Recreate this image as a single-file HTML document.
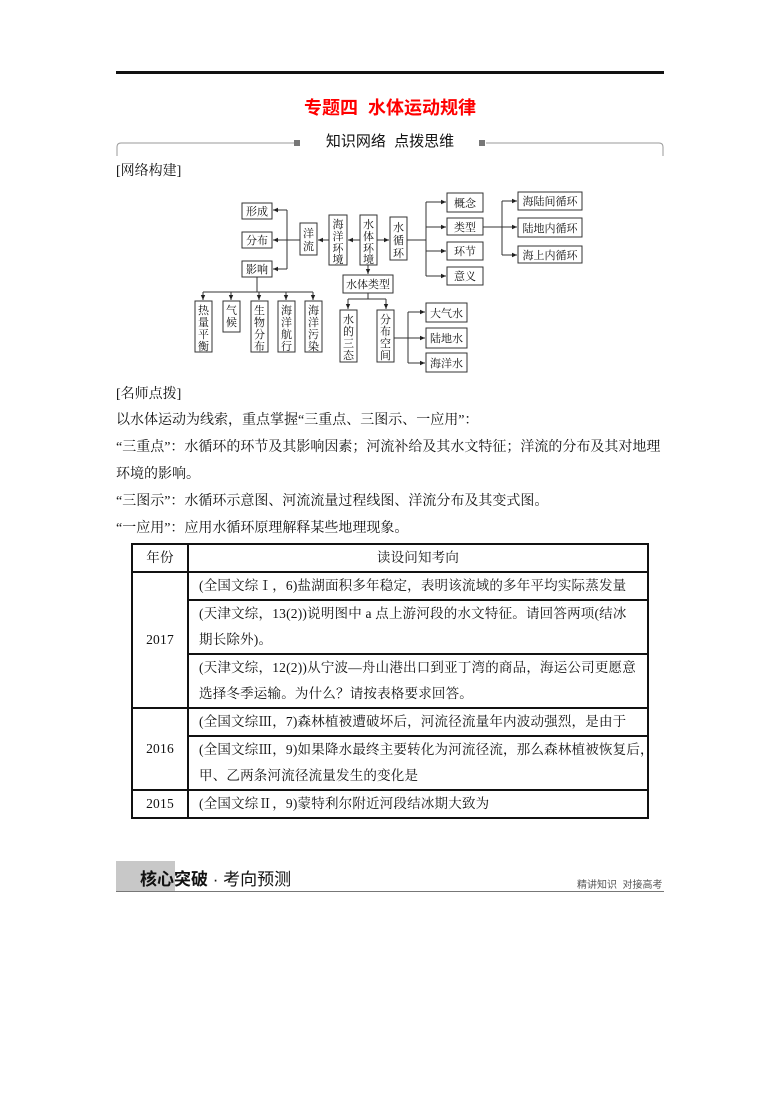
<!DOCTYPE html>
<html><head><meta charset="utf-8"><style>
body{margin:0;width:780px;height:1105px;background:#fff;position:relative;font-family:"Liberation Serif","Noto Serif CJK SC",serif;color:#111;overflow:hidden}
.a{position:absolute;white-space:nowrap}
.p{font-size:14px;left:116px}
table{position:absolute;left:131px;top:543px;border-collapse:collapse;font-size:13.5px;table-layout:fixed;width:518px}
td{border:2px solid #111;padding:0 0 0 10px;vertical-align:top;line-height:26px;white-space:nowrap;overflow:hidden;letter-spacing:0.2px}
td.y{text-align:center;vertical-align:middle;padding:0}
</style></head><body>
<div class="a" style="left:116px;top:71px;width:548px;height:3px;background:#111"></div>
<div class="a" style="left:0;width:780px;top:94px;text-align:center;color:#f00;font-size:18px;font-weight:bold;font-family:'Liberation Sans','Noto Sans CJK SC',sans-serif">专题四&nbsp; 水体运动规律</div>
<svg class="a" style="left:0;top:0" width="780" height="200">
<path d="M117 156 V147 Q117 143 121 143 H294 M486 143 H659 Q663 143 663 147 V156" fill="none" stroke="#999" stroke-width="1"/>
<rect x="294" y="140" width="6" height="6" fill="#777"/><rect x="479" y="140" width="6" height="6" fill="#777"/>
</svg>
<div class="a" style="left:0;width:780px;top:130px;text-align:center;font-size:15px;font-family:'Liberation Sans','Noto Sans CJK SC',sans-serif">知识网络&nbsp; 点拨思维</div>
<div class="a p" style="top:160px">[网络构建]</div>

<svg class="a" style="left:0;top:0;font-family:'Liberation Serif','Noto Serif CJK SC',serif" width="780" height="400" font-size="11">
<defs><marker id="m" markerWidth="6" markerHeight="6" refX="5" refY="3" orient="auto"><path d="M0,0.8 L5,3 L0,5.2z" fill="#222"/></marker></defs>
<g fill="#fff" stroke="#333" stroke-width="1">
<rect x="242" y="203" width="30" height="16"/><rect x="242" y="232" width="30" height="16"/><rect x="242" y="261" width="30" height="16"/>
<rect x="300" y="223" width="17" height="32"/><rect x="329" y="215" width="18" height="50"/><rect x="360" y="215" width="17" height="50"/><rect x="390" y="217" width="17" height="43"/>
<rect x="447" y="193" width="36" height="19"/><rect x="447" y="218" width="36" height="17"/><rect x="447" y="242" width="36" height="18"/><rect x="447" y="267" width="36" height="18"/>
<rect x="518" y="192" width="64" height="18"/><rect x="518" y="218" width="64" height="19"/><rect x="518" y="246" width="64" height="17"/>
<rect x="343" y="275" width="50" height="18"/>
<rect x="195" y="301" width="17" height="51"/><rect x="223" y="301" width="17" height="31"/><rect x="251" y="301" width="17" height="51"/><rect x="278" y="301" width="17" height="51"/><rect x="305" y="301" width="17" height="51"/>
<rect x="340" y="310" width="17" height="52"/><rect x="377" y="310" width="17" height="52"/>
<rect x="426" y="303" width="41" height="19"/><rect x="426" y="328" width="41" height="20"/><rect x="426" y="353" width="41" height="19"/>
</g>
<g fill="none" stroke="#333" stroke-width="1" marker-end="url(#m)">
<path d="M360 240 H348"/><path d="M329 240 H318"/>
<path d="M287 210 H273"/><path d="M287 240 H273"/><path d="M287 269 H273"/>
<path d="M203 292 V300"/><path d="M231 292 V300"/><path d="M259 292 V300"/><path d="M286 292 V300"/><path d="M313 292 V300"/>
<path d="M377 240 H389"/>
<path d="M426 202 H446"/><path d="M426 227 H446"/><path d="M426 251 H446"/><path d="M426 276 H446"/>
<path d="M502 201 H517"/><path d="M502 227 H517"/><path d="M502 255 H517"/>
<path d="M368 265 V274"/>
<path d="M348 299 V309"/><path d="M386 299 V309"/>
<path d="M408 312 H425"/><path d="M408 338 H425"/><path d="M408 363 H425"/>
</g>
<g fill="none" stroke="#333" stroke-width="1">
<path d="M300 240 H287 M287 210 V269"/><path d="M257 277 V292 M203 292 H313"/>
<path d="M407 240 H426 M426 202 V276"/><path d="M483 227 H502 M502 201 V255"/>
<path d="M368 293 V299 M348 299 H386"/><path d="M394 338 H408 M408 312 V363"/>
</g>
<g fill="#111" text-anchor="middle">
<text x="257" y="215">形成</text><text x="257" y="244">分布</text><text x="257" y="273">影响</text>
<text x="308.5" y="237">洋</text><text x="308.5" y="250">流</text>
<text x="338" y="228">海</text><text x="338" y="240">洋</text><text x="338" y="252">环</text><text x="338" y="263">境</text>
<text x="368.5" y="228">水</text><text x="368.5" y="240">体</text><text x="368.5" y="252">环</text><text x="368.5" y="263">境</text>
<text x="398.5" y="231">水</text><text x="398.5" y="244">循</text><text x="398.5" y="257">环</text>
<text x="465" y="207">概念</text><text x="465" y="231">类型</text><text x="465" y="255">环节</text><text x="465" y="280">意义</text>
<text x="550" y="205">海陆间循环</text><text x="550" y="232">陆地内循环</text><text x="550" y="259">海上内循环</text>
<text x="368" y="288">水体类型</text>
<text x="203.5" y="314">热</text><text x="203.5" y="326">量</text><text x="203.5" y="338">平</text><text x="203.5" y="350">衡</text>
<text x="231.5" y="314">气</text><text x="231.5" y="326">候</text>
<text x="259.5" y="314">生</text><text x="259.5" y="326">物</text><text x="259.5" y="338">分</text><text x="259.5" y="350">布</text>
<text x="286.5" y="314">海</text><text x="286.5" y="326">洋</text><text x="286.5" y="338">航</text><text x="286.5" y="350">行</text>
<text x="313.5" y="314">海</text><text x="313.5" y="326">洋</text><text x="313.5" y="338">污</text><text x="313.5" y="350">染</text>
<text x="348.5" y="323">水</text><text x="348.5" y="335">的</text><text x="348.5" y="347">三</text><text x="348.5" y="359">态</text>
<text x="385.5" y="323">分</text><text x="385.5" y="335">布</text><text x="385.5" y="347">空</text><text x="385.5" y="359">间</text>
<text x="446.5" y="317">大气水</text><text x="446.5" y="342">陆地水</text><text x="446.5" y="367">海洋水</text>
</g>
</svg>

<div class="a p" style="top:383px">[名师点拨]</div>
<div class="a p" style="top:409px">以水体运动为线索，重点掌握“三重点、三图示、一应用”：</div>
<div class="a p" style="top:436px">“三重点”：水循环的环节及其影响因素；河流补给及其水文特征；洋流的分布及其对地理</div>
<div class="a p" style="top:463px">环境的影响。</div>
<div class="a p" style="top:490px">“三图示”：水循环示意图、河流流量过程线图、洋流分布及其变式图。</div>
<div class="a p" style="top:517px">“一应用”：应用水循环原理解释某些地理现象。</div>

<table>
<colgroup><col style="width:56px"><col></colgroup>
<tr style="height:26px"><td class="y" style="vertical-align:top">年份</td><td style="text-align:center;padding:0">读设问知考向</td></tr>
<tr style="height:25px"><td class="y" rowspan="3">2017</td><td>(全国文综Ⅰ，6)盐湖面积多年稳定，表明该流域的多年平均实际蒸发量</td></tr>
<tr style="height:53px"><td>(天津文综，13(2))说明图中 a 点上游河段的水文特征。请回答两项(结冰<br>期长除外)。</td></tr>
<tr style="height:52px"><td>(天津文综，12(2))从宁波—舟山港出口到亚丁湾的商品，海运公司更愿意<br>选择冬季运输。为什么？请按表格要求回答。</td></tr>
<tr style="height:25px"><td class="y" rowspan="2">2016</td><td>(全国文综Ⅲ，7)森林植被遭破坏后，河流径流量年内波动强烈，是由于</td></tr>
<tr style="height:53px"><td>(全国文综Ⅲ，9)如果降水最终主要转化为河流径流，那么森林植被恢复后，<br>甲、乙两条河流径流量发生的变化是</td></tr>
<tr style="height:26px"><td class="y" style="vertical-align:top">2015</td><td>(全国文综Ⅱ，9)蒙特利尔附近河段结冰期大致为</td></tr>
</table>

<div class="a" style="left:116px;top:861px;width:59px;height:30px;background:#c8c8c8"></div>
<div class="a" style="left:140px;top:865px;font-size:17px;font-family:'Liberation Sans','Noto Sans CJK SC',sans-serif"><b>核心突破</b> · 考向预测</div>
<div class="a" style="left:577px;top:876px;font-size:10px;color:#555;font-family:'Liberation Sans','Noto Sans CJK SC',sans-serif">精讲知识&nbsp; 对接高考</div>
<div class="a" style="left:116px;top:891px;width:548px;height:1px;background:#777"></div>
</body></html>
